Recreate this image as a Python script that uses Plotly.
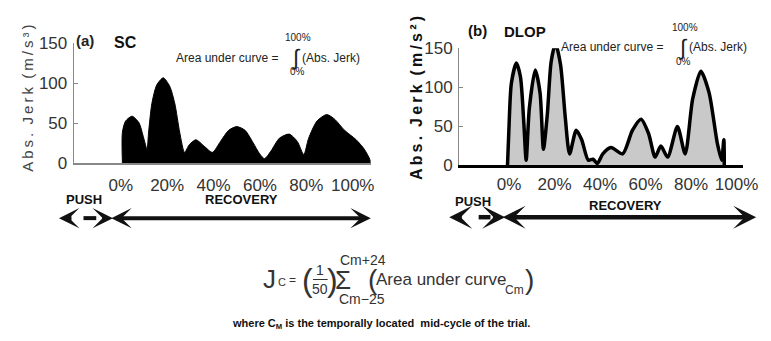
import plotly.graph_objects as go

W, H = 771, 341
FONT = "Liberation Sans, Arial, sans-serif"

# ---------------- data ----------------
tick_vals = [0, 20, 40, 60, 80, 100]
tick_text = ["0%", "20%", "40%", "60%", "80%", "100%"]
y_ticks = [0, 50, 100, 150]

# (a) SC : cycle position (%) and absolute jerk (m/s^3)
sc_pct = [0.7, 0.7, 2.1, 4.9, 7.8, 9.9, 11.3, 12.0, 13.4, 15.5, 18.3, 21.1, 23.3, 25.4,
          27.5, 29.6, 32.4, 35.9, 39.5, 43.0, 46.5, 50.0, 53.6, 57.1, 59.9, 62.0, 64.8,
          68.4, 72.6, 76.1, 78.9, 81.0, 84.6, 88.8, 92.3, 96.5, 101.5, 105.0, 107.5, 107.5]
sc_jerk = [0, 39, 53, 59, 51, 31.5, 17.7, 39, 74.8, 98, 107, 96.5, 74.8, 39,
           13.8, 23.6, 29.5, 21.6, 13.8, 27.5, 41.3, 46, 41.3, 25.6, 11.8, 5.9, 15.7,
           31.5, 36.6, 27.5, 11, 31.5, 53, 61, 55, 41.3, 29.5, 17.7, 4, 0]

# (b) DLOP
dl_pct = [-0.7, -0.1, 1.0, 3.2, 5.0, 6.5, 7.5, 8.9, 11.5, 13.6, 15.1, 16.8, 18.5, 20.4,
          22.6, 24.7, 26.6, 29.5, 31.9, 34.8, 36.9, 38.8, 41.2, 44.8, 49.9, 54.2, 58.0,
          61.3, 64.2, 66.7, 69.7, 74.0, 77.4, 80.7, 84.3, 87.9, 91.5, 93.4, 94.4, 94.6]
dl_jerk = [0, 44.7, 105, 131, 113, 53, 6.5, 73, 122, 93, 20.6, 65, 133, 155.6,
           129, 61, 14.5, 44.7, 32.6, 6.5, 7.7, 2.4, 14.5, 22.6, 14.5, 44.7, 59,
           40.7, 10.5, 24.6, 10.5, 49.6, 14.5, 85, 120.5, 93, 28.6, 6.5, 32.6, 0]


def px(x):
    return x / W


def py(y):
    return 1 - y / H


fig = go.Figure()
fig.add_trace(go.Scatter(x=sc_pct, y=sc_jerk, mode="lines", fill="tozeroy",
                         fillcolor="black", line=dict(color="black", width=1, shape="spline", smoothing=0.7),
                         xaxis="x", yaxis="y", showlegend=False, hoverinfo="skip"))
fig.add_trace(go.Scatter(x=dl_pct, y=dl_jerk, mode="lines", fill="tozeroy",
                         fillcolor="#c9c9c9", line=dict(color="black", width=3.5, shape="spline", smoothing=0.7),
                         xaxis="x2", yaxis="y2", showlegend=False, hoverinfo="skip"))

common_x = dict(tickvals=tick_vals, ticktext=tick_text, showgrid=False, zeroline=False,
                ticks="", ticklen=0, showline=True, tickfont=dict(family=FONT, size=17, color="#333"),
                fixedrange=True)
common_y = dict(tickvals=y_ticks, range=[0, 150], showgrid=False, zeroline=False,
                ticks="inside", ticklen=4, tickcolor="#888", showline=True, linecolor="#888",
                linewidth=1, tickfont=dict(family=FONT, size=17, color="#333"),
                ticklabelstandoff=2, fixedrange=True)

fig.update_layout(
    width=W, height=H, margin=dict(l=0, r=0, t=0, b=0),
    paper_bgcolor="white", plot_bgcolor="white",
    font=dict(family=FONT, color="#222"),
    xaxis=dict(domain=[px(67), px(370)], range=[-20.3, 107.8], anchor="y",
               linecolor="#888", linewidth=1.5, ticklabelstandoff=5, **common_x),
    yaxis=dict(domain=[py(155), py(28)], anchor="x", **common_y),
    xaxis2=dict(domain=[px(460), px(750)], range=[-22.0, 103.0], anchor="y2",
                linecolor="black", linewidth=3, ticklabelstandoff=1, **common_x),
    yaxis2=dict(domain=[py(157), py(33)], anchor="x2", **common_y),
)

ann = []


def text(x, y, s, size=12, color="#222", bold=False, family=FONT, xanchor="center", angle=0):
    if bold:
        s = "<b>" + s + "</b>"
    ann.append(dict(x=px(x), y=py(y), xref="paper", yref="paper", text=s, showarrow=False,
                    xanchor=xanchor, yanchor="middle", textangle=angle,
                    font=dict(family=family, size=size, color=color)))


ts = "\u2009"
# axis titles
text(20, 86, ts.join("Abs.") + "  " + ts.join("Jerk") + "  " + ts.join("(m/s\u00b3)"), 15, "#444", angle=-90)
text(416, 86, ts.join("Abs.") + "  " + ts.join("Jerk") + "  " + ts.join("(m/s\u00b2)"), 16, "#111", bold=True, angle=-90)

# panel headings
text(79, 25, "(a)", 15, "#222", bold=True)
text(120, 27, "SC", 16, "#111", bold=True)
text(479, 14, "(b)", 15, "#111", bold=True)
text(527, 15, "DLOP", 15, "#111", bold=True)

# area under curve formulas
for (xe, yc, xi) in [(281, 43, 294), (674, 32, 688)]:
    text(xe, yc, "Area under curve = ", 12, "#222", xanchor="right")
    text(xi, yc, "\u222b", 22, "#222")
    text(xi + 2, yc - 21, "100%", 10, "#222")
    text(xi + 1, yc + 15, "0%", 10, "#222")
    text(xi + 4, yc, "(Abs. Jerk)", 12, "#222", xanchor="left")

# PUSH / RECOVERY labels
text(77, 193, "PUSH", 13, "#111", bold=True)
text(238, 193, "RECOVERY", 13, "#111", bold=True)
text(474, 195, "PUSH", 13, "#111", bold=True)
text(630, 200, "RECOVERY", 13, "#111", bold=True)


def arrow(x_tip, y, dx, both=False, width=4):
    a = dict(x=px(x_tip), y=py(y), xref="paper", yref="paper", ax=dx, ay=0,
             axref="pixel", ayref="pixel", text="", showarrow=True,
             arrowhead=3, arrowsize=0.85, arrowwidth=width, arrowcolor="#111",
             standoff=0, startstandoff=0)
    if both:
        a.update(arrowside="end+start", startarrowhead=3, startarrowsize=0.85)
    ann.append(a)


shapes = []
# (a) arrows
arrow(52, 213, 14)
shapes.append(dict(type="line", xref="paper", yref="paper", x0=px(77), x1=px(90), y0=py(213), y1=py(213),
                   line=dict(color="#111", width=4)))
arrow(107, 213, -9)
arrow(370, 213, -261, both=True)
# (b) arrows
arrow(450, 212, 14, width=4.5)
shapes.append(dict(type="line", xref="paper", yref="paper", x0=px(480), x1=px(492), y0=py(212), y1=py(212),
                   line=dict(color="#111", width=4.5)))
arrow(507, 212, -9, width=4.5)
arrow(763, 212, -255, both=True, width=4.5)

# J_c formula
fc = "#333"
text(267, 277, "J", 26, fc)
text(279, 281, "C", 11, fc)
text(290, 279, "=", 12, fc)
text(305, 278, "(", 32, fc)
text(331, 278, ")", 32, fc)
text(318, 268, "1", 14, fc)
text(318, 288, "50", 14, fc)
shapes.append(dict(type="line", xref="paper", yref="paper", x0=px(311), x1=px(326), y0=py(278), y1=py(278),
                   line=dict(color=fc, width=1)))
text(342, 278, "\u03a3", 26, fc)
text(362, 257, "Cm+24", 14, fc)
text(361, 299, "Cm\u221225", 14, fc)
text(372, 278, "(", 28, fc)
text(442, 278, "Area under curve", 17, fc)
text(517, 289, "Cm", 12, fc)
text(532, 278, ")", 28, fc)

text(380, 325, "where C<sub>M</sub> is the temporally located  mid-cycle of the trial.", 11, "#111", bold=True)

fig.update_layout(annotations=ann, shapes=shapes)
fig.write_html("out.html")
